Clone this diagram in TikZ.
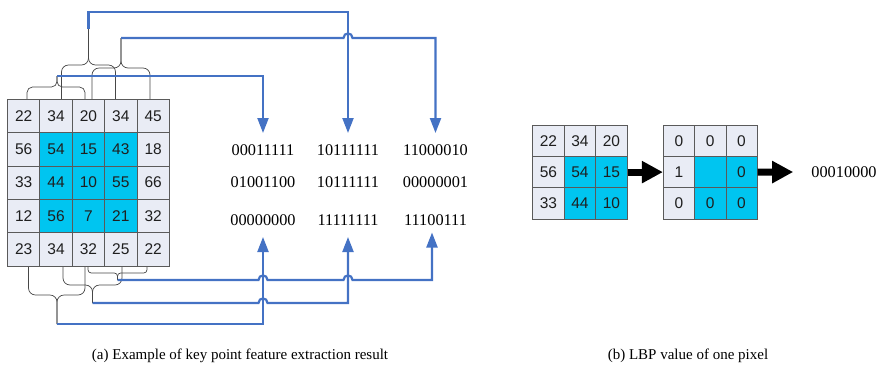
\documentclass[tikz,border=0pt]{standalone}
\usepackage{fontspec}
\setmainfont{Liberation Serif}
\newfontfamily\arialf{Liberation Sans}
\usetikzlibrary{arrows.meta}
\definecolor{cellgray}{HTML}{E9ECF5}
\definecolor{cellcyan}{HTML}{00C5F0}
\definecolor{lineblue}{HTML}{4472C4}
\definecolor{gridline}{HTML}{5A5A5A}
\begin{document}
\begin{tikzpicture}[x=1pt,y=-1pt,
  cell/.style={draw=gridline, line width=0.8pt, minimum width=32.36pt, minimum height=33.34pt,
    inner sep=0pt, font=\arialf\fontsize{15.5}{17}\selectfont, text=black!88},
  gcell/.style={cell, fill=cellgray},
  ccell/.style={cell, fill=cellcyan},
  scell/.style={minimum width=31.5pt, minimum height=31.4pt},
  bits/.style={font=\fontsize{16.3}{18}\selectfont, inner sep=0pt},
  bracepath/.style={draw=black!72, line width=0.7pt, rounded corners=7pt},
  feed/.style={draw=lineblue, line width=2.2pt},
  feedarrow/.style={feed, -{Triangle[length=15pt,width=11pt]}},
  bigarrow/.style={line width=7pt, -{Triangle[length=21pt,width=21pt]}},
  captiontext/.style={font=\fontsize{15}{18}\selectfont, inner sep=0pt}
]
\useasboundingbox (0,0) rectangle (878,368);

% ---------- braces (drawn first) ----------
\coordinate (t1) at (57,76);
\coordinate (t2) at (88.5,29);
\coordinate (t3) at (121,38);
\coordinate (b1) at (57,324);
\coordinate (b2) at (92.5,303);
\coordinate (b3) at (117.5,280);

\draw[bracepath, rounded corners=5.5pt] (27,99.3) -- (27,87) -- (57,87) -- (t1);
\draw[bracepath, rounded corners=5.5pt] (85,99.3) -- (85,87) -- (57,87) -- (t1);
\draw[bracepath] (61.5,99.3) -- (61.5,65) -- (88.5,65) -- (t2);
\draw[bracepath] (115.5,99.3) -- (115.5,65) -- (88.5,65) -- (t2);
\draw[bracepath] (92,99.3) -- (92,68) -- (121,68) -- (t3);
\draw[bracepath] (150,99.3) -- (150,68) -- (121,68) -- (t3);

\draw[bracepath] (28.5,266) -- (28.5,295) -- (57,295) -- (b1);
\draw[bracepath] (85,266) -- (85,295) -- (57,295) -- (b1);
\draw[bracepath] (63,266) -- (63,285) -- (92.5,285) -- (b2);
\draw[bracepath] (122,266) -- (122,285) -- (92.5,285) -- (b2);
\draw[bracepath, rounded corners=3.2pt] (88,266) -- (88,273) -- (117.5,273) -- (b3);
\draw[bracepath, rounded corners=3.2pt] (147,266) -- (147,273) -- (117.5,273) -- (b3);

% ---------- 5x5 grid ----------
\foreach \v [count=\k from 0] in {22,34,20,34,45,56,54,15,43,18,33,44,10,55,66,12,56,7,21,32,23,34,32,25,22} {
  \pgfmathtruncatemacro\r{int(\k/5)}
  \pgfmathtruncatemacro\c{mod(\k,5)}
  \pgfmathtruncatemacro\isc{(\r>0)&&(\r<4)&&(\c>0)&&(\c<4)}
  \ifnum\isc=1 \def\sty{ccell}\else\def\sty{gcell}\fi
  \node[\sty] (a-\r-\c) at ({7.5+32.36*(\c+0.5)},{99.3+33.34*(\r+0.5)}) {\v};
}

% ---------- binary codes ----------
\node[bits] (r1c1) at (263,150) {00011111};
\node[bits] (r1c2) at (348,150) {10111111};
\node[bits] (r1c3) at (435.5,150) {11000010};
\node[bits] (r2c1) at (263,181.7) {01001100};
\node[bits] (r2c2) at (348,181.7) {10111111};
\node[bits] (r2c3) at (435.5,181.7) {00000001};
\node[bits] (r3c1) at (263,220) {00000000};
\node[bits] (r3c2) at (348,220) {11111111};
\node[bits] (r3c3) at (435.5,220) {11100111};

\coordinate (in11) at (263,133);
\coordinate (in12) at (348,133);
\coordinate (in13) at (435.5,133);
\coordinate (in31) at (263,237);
\coordinate (in32) at (348,237);
\coordinate (in33) at (432,232.5);
\coordinate (k2) at (88.5,12);

% ---------- blue connectors ----------
\draw[feedarrow] (t2) -- (k2) -| (in12);
\draw[feedarrow] (t3) -- (343.5,38) .. controls (343.5,32) and (352.5,32) .. (352.5,38) -| (in13);
\draw[feedarrow] (t1) -| (in11);

\draw[feedarrow] (b1) -| (in31);
\draw[feedarrow] (b2) -- (258.5,303) .. controls (258.5,297) and (267.5,297) .. (267.5,303) -| (in32);
\draw[feedarrow] (b3) -- (258.5,280) .. controls (258.5,274) and (267.5,274) .. (267.5,280)
  -- (343.5,280) .. controls (343.5,274) and (352.5,274) .. (352.5,280) -| (in33);

% ---------- LBP part ----------
\foreach \v [count=\k from 0] in {22,34,20,56,54,15,33,44,10} {
  \pgfmathtruncatemacro\r{int(\k/3)}
  \pgfmathtruncatemacro\c{mod(\k,3)}
  \pgfmathtruncatemacro\isc{(\r>0)&&(\c>0)}
  \ifnum\isc=1 \def\sty{ccell}\else\def\sty{gcell}\fi
  \node[\sty, scell] (g-\r-\c) at ({532.7+31.5*(\c+0.5)},{125+31.4*(\r+0.5)}) {\v};
}
\foreach \v [count=\k from 0] in {0,0,0,1,{},0,0,0,0} {
  \pgfmathtruncatemacro\r{int(\k/3)}
  \pgfmathtruncatemacro\c{mod(\k,3)}
  \pgfmathtruncatemacro\isc{(\r>0)&&(\c>0)}
  \ifnum\isc=1 \def\sty{ccell}\else\def\sty{gcell}\fi
  \node[\sty, scell, minimum width=31.3pt] (h-\r-\c) at ({663.3+31.3*(\c+0.5)},{125+31.4*(\r+0.5)}) {\v};
}
\node[bits] (lbp) at (844,172) {00010000};
\draw[bigarrow] (g-1-2.east) -- (h-1-0.west);
\draw[bigarrow] (h-1-2.east) -- ([xshift=-18pt]lbp.west);

% ---------- captions ----------
\node[captiontext] (capa) at (240,356) {(a) Example of key point feature extraction result};
\node[captiontext] (capb) at (688,356) {(b) LBP value of one pixel};
\end{tikzpicture}
\end{document}
